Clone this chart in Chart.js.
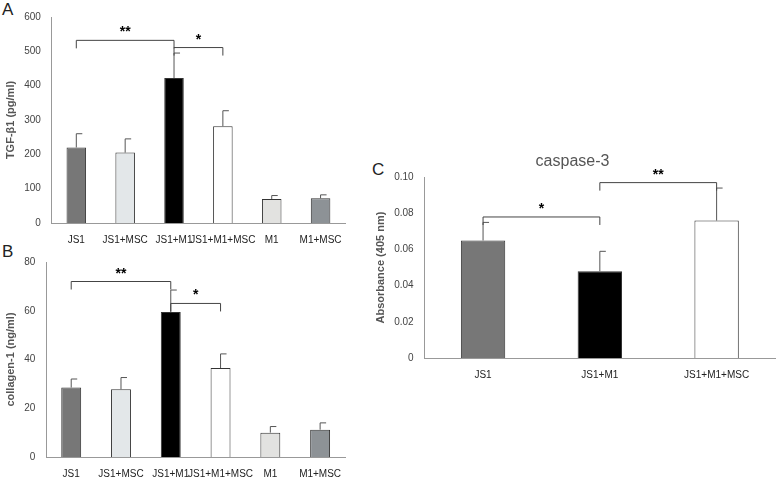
<!DOCTYPE html><html><head><script src="https://cdn.jsdelivr.net/npm/chart.js@4"></script>
<style>body{margin:0;background:#fff;width:783px;height:483px;position:relative;font-family:Arial,"Liberation Sans",sans-serif}
.c{position:absolute}.L{position:absolute;font-size:17px;color:#222}</style></head><body>
<div class="L" style="left:2px;top:0px">A</div><div class="L" style="left:2px;top:242px">B</div><div class="L" style="left:372px;top:160px">C</div>
<div class="c" style="left:0;top:7px;width:350px;height:242px"><canvas id="a"></canvas></div>
<div class="c" style="left:0;top:252px;width:350px;height:231px"><canvas id="b"></canvas></div>
<div class="c" style="left:370px;top:152px;width:410px;height:232px"><canvas id="cc"></canvas></div>
<script>
const catsAB=["JS1","JS1+MSC","JS1+M1","JS1+M1+MSC","M1","M1+MSC"];
const tgfVals=[220,205,422,282,70,72];
const tgfErr=[40,40,73,45,10,10];
const colVals=[28.5,27.8,59.5,36.5,10,11.2];
const colErr=[3.5,4.8,9,5.8,2.5,2.8];
const catsC=["JS1","JS1+M1","JS1+M1+MSC"];
const casVals=[0.065,0.048,0.076];
const casErr=[0.010,0.011,0.018];
const colorsAB=["#777777","#e3e7e9","#000000","#ffffff","#e2e2e0","#8d9296"];
const colorsC=["#777777","#000000","#ffffff"];
const brA=[[0,2,532,"**"],[2,3,511,"*"]];
const brB=[[0,2,72,"**"],[2,3,63,"*"]];
const brC=[[0,1,0.078,"*"],[1,2,0.097,"**"]];
const plug={id:'x',afterDatasetsDraw(ch,a,o){const c=ch.ctx,x=ch.scales.x,y=ch.scales.y,m=ch.getDatasetMeta(0);const ds=ch.data.datasets[0];
c.save();c.strokeStyle='#555';c.lineWidth=1;
ds.err.forEach((e,i)=>{const px=m.data[i].x,top=y.getPixelForValue(ds.data[i]),t=y.getPixelForValue(ds.data[i]+e);c.beginPath();c.moveTo(px,top);c.lineTo(px,t);c.moveTo(px,t);c.lineTo(px+6,t);c.stroke();});
c.strokeStyle='#444';c.fillStyle='#000';c.font='bold 14px Arial';c.textAlign='center';
ds.br.forEach(b=>{const x1=m.data[b[0]].x,x2=m.data[b[1]].x,py=y.getPixelForValue(b[2]);c.beginPath();c.moveTo(x1,py+8);c.lineTo(x1,py);c.lineTo(x2,py);c.lineTo(x2,py+8);c.stroke();c.fillText(b[3],(x1+x2)/2,py-4);});
c.restore();}};
function mk(id,cats,vals,err,cols,br,max,step,title,ttl,bp){
new Chart(document.getElementById(id),{type:'bar',data:{labels:cats,datasets:[{data:vals,err:err,br:br,backgroundColor:cols,borderColor:'#333',borderWidth:1,barPercentage:bp,categoryPercentage:1}]},
options:{responsive:true,maintainAspectRatio:false,animation:false,layout:{padding:{right:5,top:ttl?0:10}},
plugins:{legend:{display:false},tooltip:{enabled:false},title:{display:!!ttl,text:ttl,color:'#555',font:{size:16,weight:'normal'},padding:{top:0,bottom:6}}},
scales:{x:{grid:{display:false},border:{color:'#999'},ticks:{color:'#222',font:{size:10},maxRotation:0,autoSkip:false}},
y:{min:0,max:max,grid:{display:false},border:{color:'#999'},ticks:{stepSize:step,color:'#444',font:{size:10}},title:{display:true,text:title,color:'#555',font:{size:11,weight:'bold'}}}}},plugins:[plug]});}
mk('a',catsAB,tgfVals,tgfErr,colorsAB,brA,600,100,'TGF-β1 (pg/ml)',null,0.4);
mk('b',catsAB,colVals,colErr,colorsAB,brB,80,20,'collagen-1 (ng/ml)',null,0.4);
mk('cc',catsC,casVals,casErr,colorsC,brC,0.1,0.02,'Absorbance (405 nm)','caspase-3',0.38);
</script></body></html>
